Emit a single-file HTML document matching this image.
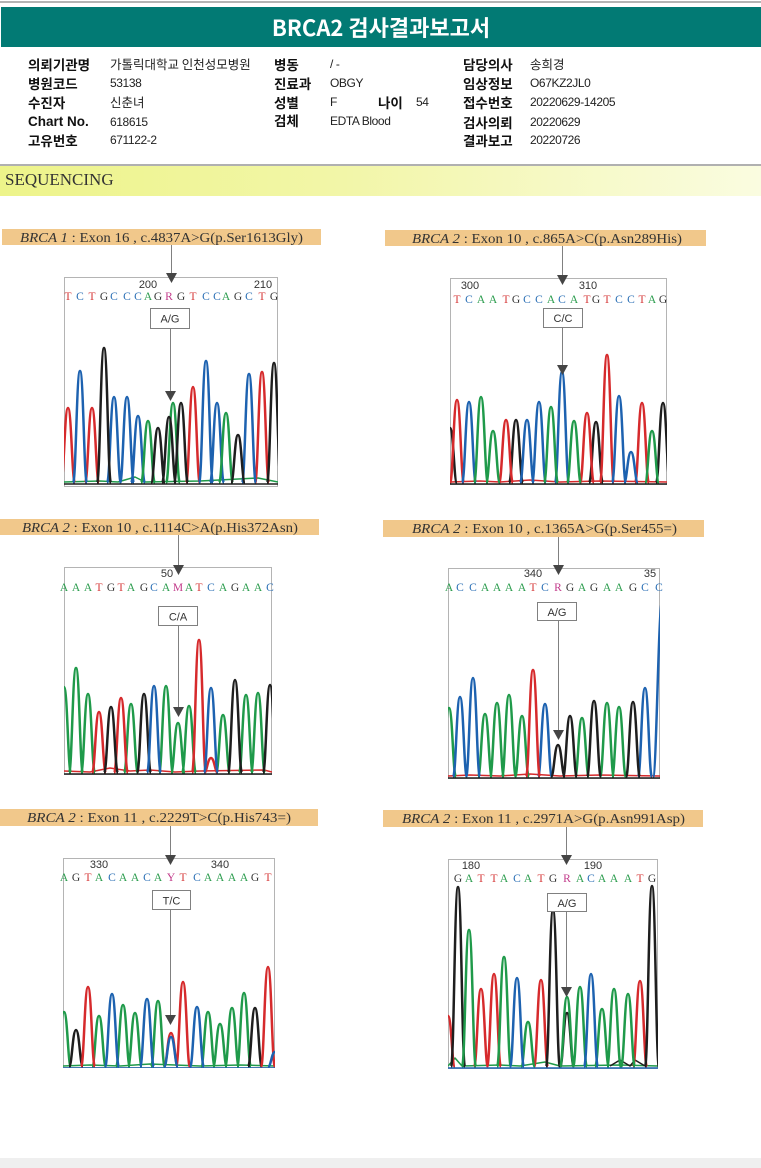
<!DOCTYPE html>
<html><head><meta charset="utf-8">
<style>
html,body{margin:0;padding:0;background:#fff;}
body{width:761px;height:1168px;position:relative;overflow:hidden;font-family:"Liberation Sans","Noto Sans CJK KR",sans-serif;}
.t{position:absolute;height:16px;line-height:16px;white-space:nowrap;color:#111;}
.l{font-weight:bold;font-size:13.5px;font-family:"Noto Sans CJK KR","Liberation Sans",sans-serif;}
.l.e{font-family:"Liberation Sans","Noto Sans CJK KR",sans-serif;font-size:13.5px;}
.v{font-size:12px;letter-spacing:-0.4px;color:#222;}
.v.h{font-size:12.5px;letter-spacing:0;font-family:"Noto Sans CJK KR","Liberation Sans",sans-serif;}
svg text{font-family:"Liberation Sans",sans-serif;}
.pk{fill:none;stroke-width:2.5;stroke-linejoin:round;}
.r{stroke:#d62a2c}.b{stroke:#1d62b0}.k{stroke:#1e1e1e}.g{stroke:#1f9a4a}
.tr{fill:#d63a3a}.tb{fill:#2a6fb5}.tg{fill:#2e9e50}.tk{fill:#333}.tm{fill:#c23a8a}
.seq{font-family:"Liberation Serif",serif !important;font-size:11.5px;text-anchor:middle;}
.num{font-size:11px;fill:#333;text-anchor:middle;}
.lab{font-family:"Liberation Serif",serif !important;font-size:14px;fill:#333;}
.bx{font-size:11px;fill:#333;text-anchor:middle;}
</style></head>
<body>
<div style="position:absolute;left:0;top:1px;width:761px;height:2px;background:#b4b4b4;"></div>
<div style="position:absolute;left:1px;top:7px;width:760px;height:40px;background:#027a74;color:#fff;font-weight:bold;font-size:22px;line-height:40px;text-align:center;font-family:'Noto Sans CJK KR','Liberation Sans',sans-serif;">BRCA2 검사결과보고서</div>

<div class="t l" style="left:28px;top:56px;">의뢰기관명</div>
<div class="t v h" style="left:110px;top:56px;">가톨릭대학교 인천성모병원</div>
<div class="t l" style="left:274px;top:56px;">병동</div>
<div class="t v" style="left:330px;top:56px;">/ -</div>
<div class="t l" style="left:463px;top:56px;">담당의사</div>
<div class="t v h" style="left:530px;top:56px;">송희경</div>

<div class="t l" style="left:28px;top:75px;">병원코드</div>
<div class="t v" style="left:110px;top:75px;">53138</div>
<div class="t l" style="left:274px;top:75px;">진료과</div>
<div class="t v" style="left:330px;top:75px;">OBGY</div>
<div class="t l" style="left:463px;top:75px;">임상정보</div>
<div class="t v" style="left:530px;top:75px;">O67KZ2JL0</div>

<div class="t l" style="left:28px;top:94px;">수진자</div>
<div class="t v h" style="left:110px;top:94px;">신춘녀</div>
<div class="t l" style="left:274px;top:94px;">성별</div>
<div class="t v" style="left:330px;top:94px;">F</div>
<div class="t l" style="left:378px;top:94px;">나이</div>
<div class="t v" style="left:416px;top:94px;">54</div>
<div class="t l" style="left:463px;top:94px;">접수번호</div>
<div class="t v" style="left:530px;top:94px;">20220629-14205</div>

<div class="t l e" style="left:28px;top:114px;">Chart No.</div>
<div class="t v" style="left:110px;top:114px;">618615</div>
<div class="t l" style="left:274px;top:112px;">검체</div>
<div class="t v" style="left:330px;top:113px;">EDTA Blood</div>
<div class="t l" style="left:463px;top:114px;">검사의뢰</div>
<div class="t v" style="left:530px;top:114px;">20220629</div>

<div class="t l" style="left:28px;top:132px;">고유번호</div>
<div class="t v" style="left:110px;top:132px;">671122-2</div>
<div class="t l" style="left:463px;top:132px;">결과보고</div>
<div class="t v" style="left:530px;top:132px;">20220726</div>

<div style="position:absolute;left:0;top:164px;width:761px;height:2px;background:#b0b0b0;"></div>
<div style="position:absolute;left:0;top:166px;width:761px;height:30px;background:linear-gradient(90deg,#edf48a 0%,#f2f6a8 45%,#fafce0 100%);"></div>
<div style="position:absolute;left:5px;top:168px;height:24px;line-height:24px;font-family:'Liberation Serif',serif;font-size:17px;color:#333;">SEQUENCING</div>

<div style="position:absolute;left:0;top:1158px;width:761px;height:10px;background:#efefef;"></div>

<svg style="position:absolute;left:0;top:0" width="761" height="1168" viewBox="0 0 761 1168" xmlns="http://www.w3.org/2000/svg">
<defs>
<clipPath id="c1"><rect x="64" y="277" width="214" height="210"/></clipPath>
<clipPath id="c2"><rect x="450" y="278" width="217" height="207"/></clipPath>
<clipPath id="c3"><rect x="64" y="567" width="208" height="208"/></clipPath>
<clipPath id="c4"><rect x="448" y="568" width="212" height="211"/></clipPath>
<clipPath id="c5"><rect x="63" y="858" width="212" height="210"/></clipPath>
<clipPath id="c6"><rect x="448" y="859" width="210" height="210"/></clipPath>
</defs>

<!-- label bars -->
<rect x="2" y="229" width="319" height="16" fill="#f1c88b"/>
<text class="lab" x="20" y="242" textLength="283" lengthAdjust="spacingAndGlyphs"><tspan font-style="italic">BRCA 1</tspan> : Exon 16 , c.4837A&gt;G(p.Ser1613Gly)</text>
<rect x="385" y="230" width="321" height="16" fill="#f1c88b"/>
<text class="lab" x="412" y="243" textLength="270" lengthAdjust="spacingAndGlyphs"><tspan font-style="italic">BRCA 2</tspan> : Exon 10 , c.865A&gt;C(p.Asn289His)</text>
<rect x="0" y="519" width="319" height="16" fill="#f1c88b"/>
<text class="lab" x="22" y="532" textLength="276" lengthAdjust="spacingAndGlyphs"><tspan font-style="italic">BRCA 2</tspan> : Exon 10 , c.1114C&gt;A(p.His372Asn)</text>
<rect x="383" y="520" width="321" height="17" fill="#f1c88b"/>
<text class="lab" x="412" y="533" textLength="265" lengthAdjust="spacingAndGlyphs"><tspan font-style="italic">BRCA 2</tspan> : Exon 10 , c.1365A&gt;G(p.Ser455=)</text>
<rect x="0" y="809" width="318" height="17" fill="#f1c88b"/>
<text class="lab" x="27" y="822" textLength="264" lengthAdjust="spacingAndGlyphs"><tspan font-style="italic">BRCA 2</tspan> : Exon 11 , c.2229T&gt;C(p.His743=)</text>
<rect x="383" y="810" width="320" height="17" fill="#f1c88b"/>
<text class="lab" x="402" y="823" textLength="283" lengthAdjust="spacingAndGlyphs"><tspan font-style="italic">BRCA 2</tspan> : Exon 11 , c.2971A&gt;G(p.Asn991Asp)</text>

<!-- chart frames -->
<g fill="#fff" stroke="#b4b4b4" stroke-width="1">
<rect x="64.5" y="277.5" width="213" height="209"/>
<rect x="450.5" y="278.5" width="216" height="206"/>
<rect x="64.5" y="567.5" width="207" height="207"/>
<rect x="448.5" y="568.5" width="211" height="210"/>
<rect x="63.5" y="858.5" width="211" height="209"/>
<rect x="448.5" y="859.5" width="209" height="209"/>
</g>

<!-- Chart 1 -->
<g clip-path="url(#c1)" class="pk">
<path class="g" stroke-width="1.5" d="M64 482L100 481L118 482L135 477L145 482L200 481L258 478L278 482"/>
<path class="r" d="M61 483c3 0 3.5-75 7-75s4 75 7 75M85 483c3 0 3.5-75 7-75s4 75 7 75M186 483c3 0 3.5-96 7-96s4 96 7 96M255 483c3 0 3.5-111 7-111s4 111 7 111"/>
<path class="b" d="M73 483c3 0 3.5-112 7-112s4 112 7 112M107 483c3 0 3.5-86 7-86s4 86 7 86M120 483c3 0 3.5-86 7-86s4 86 7 86M131 483c3 0 3.5-67 7-67s4 67 7 67M199 483c3 0 3.5-122 7-122s4 122 7 122M210 483c3 0 3.5-80 7-80s4 80 7 80M242 483c3 0 3.5-109 7-109s4 109 7 109"/>
<path class="g" d="M141 483c3 0 3.5-62 7-62s4 62 7 62M166 483c3 0 3.5-80 7-80s4 80 7 80M219 483c3 0 3.5-70 7-70s4 70 7 70"/>
<path class="k" d="M97 483c3 0 3.5-135 7-135s4 135 7 135M151 483c3 0 3.5-55 7-55s4 55 7 55M162 483c3 0 3.5-66 7-66s4 66 7 66M174 483c3 0 3.5-80 7-80s4 80 7 80M231 483c3 0 3.5-48 7-48s4 48 7 48M267 483c3 0 3.5-120 7-120s4 120 7 120"/>
<path class="k" stroke-width="1.5" d="M64 484H278"/>
</g>
<text class="num" x="148" y="288">200</text><text class="num" x="263" y="288">210</text>
<text class="seq" y="300"><tspan class="tr" x="68">T</tspan><tspan class="tb" x="80">C</tspan><tspan class="tr" x="92">T</tspan><tspan class="tk" x="104">G</tspan><tspan class="tb" x="114">C</tspan><tspan class="tb" x="127">C</tspan><tspan class="tb" x="138">C</tspan><tspan class="tg" x="148">A</tspan><tspan class="tk" x="158">G</tspan><tspan class="tm" x="169">R</tspan><tspan class="tk" x="181">G</tspan><tspan class="tr" x="193">T</tspan><tspan class="tb" x="206">C</tspan><tspan class="tb" x="217">C</tspan><tspan class="tg" x="226">A</tspan><tspan class="tk" x="238">G</tspan><tspan class="tb" x="249">C</tspan><tspan class="tr" x="262">T</tspan><tspan class="tk" x="274">G</tspan></text>

<!-- Chart 2 -->
<g clip-path="url(#c2)" class="pk">
<path class="r" stroke-width="1.5" d="M450 482L480 481L500 482L530 480L560 482L600 481L667 482"/>
<path class="k" d="M443 483c3 0 3.5-55 7-55s4 55 7 55M509 483c3 0 3.5-63 7-63s4 63 7 63M589 483c3 0 3.5-61 7-61s4 61 7 61M656 483c3 0 3.5-80 7-80s4 80 7 80"/>
<path class="r" d="M450 483c3 0 3.5-83 7-83s4 83 7 83M499 483c3 0 3.5-63 7-63s4 63 7 63M580 483c3 0 3.5-70 7-70s4 70 7 70M600 483c3 0 3.5-128 7-128s4 128 7 128M635 483c3 0 3.5-80 7-80s4 80 7 80"/>
<path class="b" d="M462 483c3 0 3.5-81 7-81s4 81 7 81M520 483c3 0 3.5-63 7-63s4 63 7 63M532 483c3 0 3.5-81 7-81s4 81 7 81M555 483c3 0 3.5-111 7-111s4 111 7 111M612 483c3 0 3.5-87 7-87s4 87 7 87M624 483c3 0 3.5-31 7-31s4 31 7 31"/>
<path class="g" d="M474 483c3 0 3.5-86 7-86s4 86 7 86M486 483c3 0 3.5-52 7-52s4 52 7 52M544 483c3 0 3.5-76 7-76s4 76 7 76M567 483c3 0 3.5-62 7-62s4 62 7 62M645 483c3 0 3.5-52 7-52s4 52 7 52"/>
<path class="k" stroke-width="1.5" d="M450 484H667"/>
</g>
<text class="num" x="470" y="289">300</text><text class="num" x="588" y="289">310</text>
<text class="seq" y="303"><tspan class="tr" x="457">T</tspan><tspan class="tb" x="469">C</tspan><tspan class="tg" x="481">A</tspan><tspan class="tg" x="493">A</tspan><tspan class="tr" x="506">T</tspan><tspan class="tk" x="516">G</tspan><tspan class="tb" x="527">C</tspan><tspan class="tb" x="539">C</tspan><tspan class="tg" x="551">A</tspan><tspan class="tb" x="562">C</tspan><tspan class="tg" x="574">A</tspan><tspan class="tr" x="587">T</tspan><tspan class="tk" x="596">G</tspan><tspan class="tr" x="607">T</tspan><tspan class="tb" x="619">C</tspan><tspan class="tb" x="631">C</tspan><tspan class="tr" x="642">T</tspan><tspan class="tg" x="652">A</tspan><tspan class="tk" x="663">G</tspan></text>

<!-- Chart 3 -->
<g clip-path="url(#c3)" class="pk">
<path class="r" stroke-width="1.5" d="M64 771L90 772L110 768L130 771L150 770L175 772L200 771L264 770L272 772"/>
<path class="g" d="M57 773c3 0 3.5-86 7-86s4 86 7 86M69 773c3 0 3.5-105 7-105s4 105 7 105M81 773c3 0 3.5-79 7-79s4 79 7 79M124 773c3 0 3.5-69 7-69s4 69 7 69M159 773c3 0 3.5-87 7-87s4 87 7 87M171 773c3 0 3.5-50 7-50s4 50 7 50M182 773c3 0 3.5-67 7-67s4 67 7 67M216 773c3 0 3.5-58 7-58s4 58 7 58M239 773c3 0 3.5-78 7-78s4 78 7 78M251 773c3 0 3.5-80 7-80s4 80 7 80"/>
<path class="r" d="M92 773c3 0 3.5-61 7-61s4 61 7 61M114 773c3 0 3.5-75 7-75s4 75 7 75M192 773c3 0 3.5-133 7-133s4 133 7 133M204 773c3 0 3.5-15 7-15s4 15 7 15"/>
<path class="k" d="M104 773c3 0 3.5-66 7-66s4 66 7 66M137 773c3 0 3.5-79 7-79s4 79 7 79M228 773c3 0 3.5-93 7-93s4 93 7 93M263 773c3 0 3.5-88 7-88s4 88 7 88"/>
<path class="b" d="M147 773c3 0 3.5-87 7-87s4 87 7 87M204 773c3 0 3.5-85 7-85s4 85 7 85"/>
<path class="k" stroke-width="1.5" d="M64 774H272"/>
</g>
<text class="num" x="167" y="577">50</text>
<text class="seq" y="591"><tspan class="tg" x="64">A</tspan><tspan class="tg" x="76">A</tspan><tspan class="tg" x="88">A</tspan><tspan class="tr" x="99">T</tspan><tspan class="tk" x="111">G</tspan><tspan class="tr" x="121">T</tspan><tspan class="tg" x="131">A</tspan><tspan class="tk" x="144">G</tspan><tspan class="tb" x="154">C</tspan><tspan class="tg" x="166">A</tspan><tspan class="tm" x="178">M</tspan><tspan class="tg" x="189">A</tspan><tspan class="tr" x="199">T</tspan><tspan class="tb" x="211">C</tspan><tspan class="tg" x="223">A</tspan><tspan class="tk" x="235">G</tspan><tspan class="tg" x="246">A</tspan><tspan class="tg" x="258">A</tspan><tspan class="tb" x="270">C</tspan></text>

<!-- Chart 4 -->
<g clip-path="url(#c4)" class="pk">
<path class="r" stroke-width="1.5" d="M448 776L470 775L500 776L530 774L560 776L600 775L660 776"/>
<path class="g" d="M442 777c3 0 3.5-69 7-69s4 69 7 69M478 777c3 0 3.5-63 7-63s4 63 7 63M490 777c3 0 3.5-74 7-74s4 74 7 74M502 777c3 0 3.5-82 7-82s4 82 7 82M515 777c3 0 3.5-61 7-61s4 61 7 61M575 777c3 0 3.5-59 7-59s4 59 7 59M600 777c3 0 3.5-74 7-74s4 74 7 74M612 777c3 0 3.5-70 7-70s4 70 7 70"/>
<path class="b" d="M453 777c3 0 3.5-80 7-80s4 80 7 80M466 777c3 0 3.5-99 7-99s4 99 7 99M538 777c3 0 3.5-73 7-73s4 73 7 73M638 777c3 0 3.5-89 7-89s4 89 7 89M653 777c3.5 0 5.5-175 9-175s3.5 175 7 175"/>
<path class="r" d="M526 777c3 0 3.5-107 7-107s4 107 7 107"/>
<path class="k" d="M551 777c3 0 3.5-32 7-32s4 32 7 32M563 777c3 0 3.5-61 7-61s4 61 7 61M587 777c3 0 3.5-76 7-76s4 76 7 76M626 777c3 0 3.5-75 7-75s4 75 7 75"/>
<path class="k" stroke-width="1.5" d="M448 778H660"/>
</g>
<text class="num" x="533" y="577">340</text><text class="num" x="650" y="577" text-anchor="start">35</text>
<text class="seq" y="591"><tspan class="tg" x="449">A</tspan><tspan class="tb" x="460">C</tspan><tspan class="tb" x="473">C</tspan><tspan class="tg" x="485">A</tspan><tspan class="tg" x="497">A</tspan><tspan class="tg" x="509">A</tspan><tspan class="tg" x="522">A</tspan><tspan class="tr" x="533">T</tspan><tspan class="tb" x="545">C</tspan><tspan class="tm" x="558">R</tspan><tspan class="tk" x="570">G</tspan><tspan class="tg" x="582">A</tspan><tspan class="tk" x="594">G</tspan><tspan class="tg" x="607">A</tspan><tspan class="tg" x="619">A</tspan><tspan class="tk" x="633">G</tspan><tspan class="tb" x="645">C</tspan><tspan class="tb" x="659">C</tspan></text>

<!-- Chart 5 -->
<g clip-path="url(#c5)" class="pk">
<path class="g" stroke-width="1.5" d="M63 1066L90 1065L120 1066L150 1064L200 1066L240 1065L275 1066"/>
<path class="g" d="M57 1067c3 0 3.5-55 7-55s4 55 7 55M92 1067c3 0 3.5-51 7-51s4 51 7 51M116 1067c3 0 3.5-62 7-62s4 62 7 62M128 1067c3 0 3.5-54 7-54s4 54 7 54M151 1067c3 0 3.5-66 7-66s4 66 7 66M201 1067c3 0 3.5-55 7-55s4 55 7 55M213 1067c3 0 3.5-43 7-43s4 43 7 43M225 1067c3 0 3.5-59 7-59s4 59 7 59M237 1067c3 0 3.5-74 7-74s4 74 7 74"/>
<path class="k" d="M69 1067c3 0 3.5-37 7-37s4 37 7 37M248 1067c3 0 3.5-59 7-59s4 59 7 59"/>
<path class="r" d="M81 1067c3 0 3.5-80 7-80s4 80 7 80M164 1067c3 0 3.5-34 7-34s4 34 7 34M176 1067c3 0 3.5-85 7-85s4 85 7 85M261 1067c3 0 3.5-100 7-100s4 100 7 100"/>
<path class="b" d="M105 1067c3 0 3.5-73 7-73s4 73 7 73M140 1067c3 0 3.5-68 7-68s4 68 7 68M164 1067c3 0 3.5-30 7-30s4 30 7 30M190 1067c3 0 3.5-60 7-60s4 60 7 60M268 1067c3 0 3.5-15 7-15s4 15 7 15"/>
<path class="b" stroke-width="1.5" d="M63 1068H275"/>
</g>
<text class="num" x="99" y="868">330</text><text class="num" x="220" y="868">340</text>
<text class="seq" y="881"><tspan class="tg" x="64">A</tspan><tspan class="tk" x="76">G</tspan><tspan class="tr" x="88">T</tspan><tspan class="tg" x="99">A</tspan><tspan class="tb" x="112">C</tspan><tspan class="tg" x="123">A</tspan><tspan class="tg" x="135">A</tspan><tspan class="tb" x="147">C</tspan><tspan class="tg" x="158">A</tspan><tspan class="tm" x="171">Y</tspan><tspan class="tr" x="183">T</tspan><tspan class="tb" x="197">C</tspan><tspan class="tg" x="208">A</tspan><tspan class="tg" x="220">A</tspan><tspan class="tg" x="232">A</tspan><tspan class="tg" x="244">A</tspan><tspan class="tk" x="255">G</tspan><tspan class="tr" x="268">T</tspan></text>

<!-- Chart 6 -->
<g clip-path="url(#c6)" class="pk">
<path class="g" stroke-width="1.5" d="M448 1066L455 1058L462 1066L500 1065L520 1066L545 1062L560 1066L620 1065L658 1066"/>
<path class="k" stroke-width="1.5" d="M610 1066L620 1060L630 1066L635 1060L645 1066"/>
<path class="r" d="M441 1067c3 0 3.5-51 7-51s4 51 7 51M474 1067c3 0 3.5-78 7-78s4 78 7 78M487 1067c3 0 3.5-93 7-93s4 93 7 93M534 1067c3 0 3.5-87 7-87s4 87 7 87M633 1067c3 0 3.5-86 7-86s4 86 7 86"/>
<path class="k" d="M451 1067c3 0 3.5-180 7-180s4 180 7 180M546 1067c3 0 3.5-157 7-157s4 157 7 157M560 1067c3 0 3.5-54 7-54s4 54 7 54M645 1067c3 0 3.5-181 7-181s4 181 7 181"/>
<path class="g" d="M462 1067c3 0 3.5-137 7-137s4 137 7 137M497 1067c3 0 3.5-110 7-110s4 110 7 110M521 1067c3 0 3.5-45 7-45s4 45 7 45M560 1067c3 0 3.5-70 7-70s4 70 7 70M573 1067c3 0 3.5-80 7-80s4 80 7 80M595 1067c3 0 3.5-58 7-58s4 58 7 58M607 1067c3 0 3.5-78 7-78s4 78 7 78M621 1067c3 0 3.5-73 7-73s4 73 7 73"/>
<path class="b" d="M510 1067c3 0 3.5-89 7-89s4 89 7 89M584 1067c3 0 3.5-93 7-93s4 93 7 93"/>
<path class="b" stroke-width="1.5" d="M448 1068H658"/>
</g>
<text class="num" x="471" y="869">180</text><text class="num" x="593" y="869">190</text>
<text class="seq" y="882"><tspan class="tk" x="458">G</tspan><tspan class="tg" x="469">A</tspan><tspan class="tr" x="481">T</tspan><tspan class="tr" x="494">T</tspan><tspan class="tg" x="504">A</tspan><tspan class="tb" x="517">C</tspan><tspan class="tg" x="528">A</tspan><tspan class="tr" x="541">T</tspan><tspan class="tk" x="553">G</tspan><tspan class="tm" x="567">R</tspan><tspan class="tg" x="580">A</tspan><tspan class="tb" x="591">C</tspan><tspan class="tg" x="602">A</tspan><tspan class="tg" x="614">A</tspan><tspan class="tg" x="628">A</tspan><tspan class="tr" x="640">T</tspan><tspan class="tk" x="652">G</tspan></text>

<!-- arrows & genotype boxes -->
<g stroke="#808080" stroke-width="1" fill="none">
<path d="M171.5 245V274M170.5 328V392"/>
<path d="M562.5 246V276M562.5 327V366"/>
<path d="M178.5 535V566M178.5 625V708"/>
<path d="M558.5 537V566M558.5 621V731"/>
<path d="M170.5 826V856M170.5 909V1016"/>
<path d="M566.5 827V856M566.5 911V988"/>
</g>
<g fill="#454545">
<polygon points="166,273 177,273 171.5,283"/><polygon points="165,391 176,391 170.5,401"/>
<polygon points="557,275 568,275 562.5,285"/><polygon points="557,365 568,365 562.5,375"/>
<polygon points="173,565 184,565 178.5,575"/><polygon points="173,707 184,707 178.5,717"/>
<polygon points="553,565 564,565 558.5,575"/><polygon points="553,730 564,730 558.5,740"/>
<polygon points="165,855 176,855 170.5,865"/><polygon points="165,1015 176,1015 170.5,1025"/>
<polygon points="561,855 572,855 566.5,865"/><polygon points="561,987 572,987 566.5,997"/>
</g>
<g fill="#fff" stroke="#808080" stroke-width="1">
<rect x="150.5" y="308.5" width="39" height="20"/>
<rect x="543.5" y="308.5" width="39" height="19"/>
<rect x="158.5" y="606.5" width="39" height="19"/>
<rect x="537.5" y="602.5" width="39" height="18"/>
<rect x="152.5" y="890.5" width="38" height="19"/>
<rect x="547.5" y="893.5" width="39" height="18"/>
</g>
<text class="bx" x="170" y="322.5">A/G</text>
<text class="bx" x="563" y="322">C/C</text>
<text class="bx" x="178" y="620.5">C/A</text>
<text class="bx" x="557" y="616">A/G</text>
<text class="bx" x="171.5" y="904.5">T/C</text>
<text class="bx" x="567" y="907">A/G</text>
</svg>
</body></html>
